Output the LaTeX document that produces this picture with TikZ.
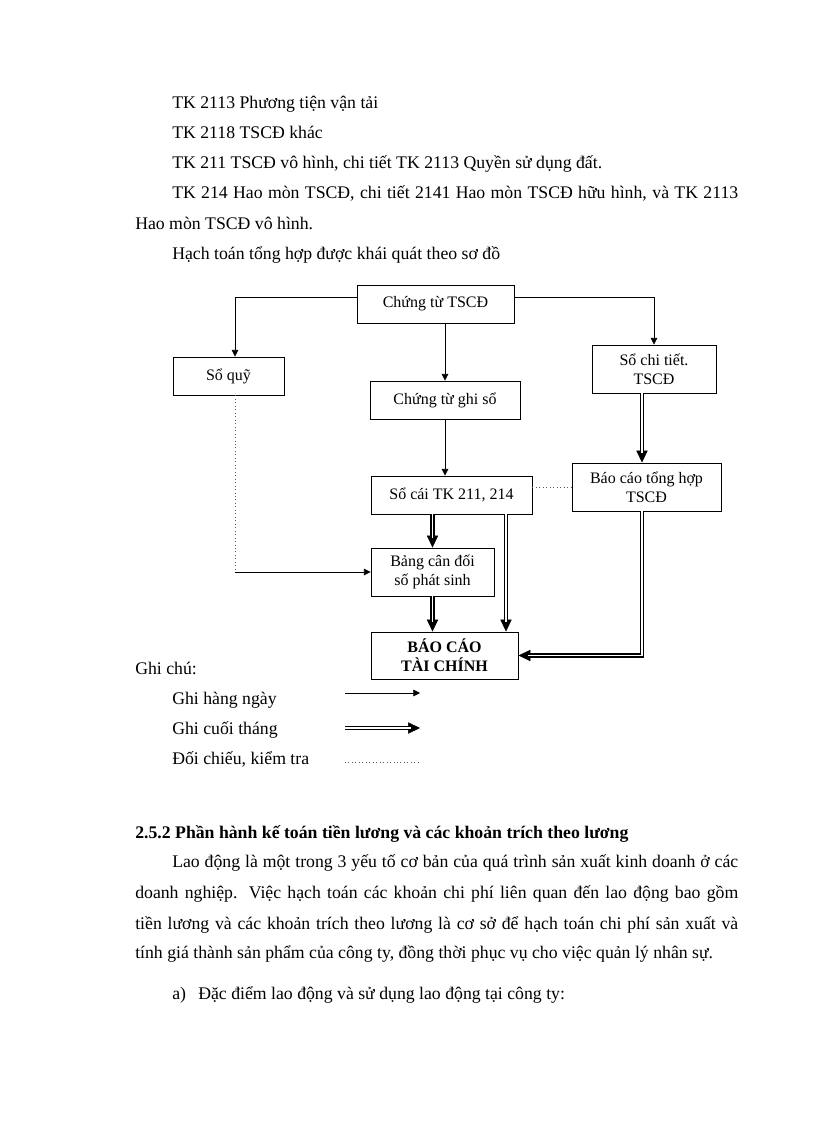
\documentclass[tikz,border=0pt]{standalone}
\usepackage{fontspec}
\setmainfont{Liberation Serif}
\usetikzlibrary{arrows.meta}

\begin{document}
\begin{tikzpicture}[
    x=0.75pt, y=-0.75pt,
    bodyline/.style={font=\fontsize{13.3}{15}\selectfont, anchor=base west, inner sep=0pt},
    headline/.style={bodyline, font=\fontsize{13.3}{15}\selectfont\bfseries},
    box/.style={draw, line width=0.7pt, minimum height=28.5pt, inner sep=1pt, align=center, font=\fontsize{12}{14}\selectfont},
    tallbox/.style={box, minimum height=36pt},
    daily/.style={line width=0.6pt, -{Triangle[length=5pt, width=5pt]}},
    tipline/.style={line width=0.4pt, -{Triangle[length=9pt, width=8.5pt]}},
    monthly/.style={double, double distance=1.2pt, line width=1.05pt, shorten >=7pt},
    check/.style={dotted, line width=0.6pt, gray!70!black},
]
\def\fullw{452.25pt}
\def\indw{424.5pt}
\def\monthline#1{\draw[tipline] #1; \draw[monthly] #1;}

\path[use as bounding box, fill=white] (0,0) rectangle (816,1123);

\foreach \i/\ypos/\txt in {
    1/109/{TK 2113 Phương tiện vận tải},
    2/139/{TK 2118 TSCĐ khác},
    3/169/{TK 211 TSCĐ vô hình, chi tiết TK 2113 Quyền sử dụng đất.},
    6/259/{Hạch toán tổng hợp được khái quát theo sơ đồ}} {
    \node[bodyline] (top\i) at (172,\ypos) {\txt};
}
\node[bodyline] (top4) at (172,199) {\makebox[\indw][s]{TK 214 Hao mòn TSCĐ, chi tiết 2141 Hao mòn TSCĐ hữu hình, và TK 2113}};
\node[bodyline] (top5) at (135,229) {Hao mòn TSCĐ vô hình.};

\node[box, minimum width=117.75pt] (ctTSCD) at (435.5,304) {Chứng từ TSCĐ};
\node[box, minimum width=83.25pt] (soquy) at (228.5,376) {Sổ quỹ};
\node[box, minimum width=112.5pt] (ctghiso) at (445,400) {Chứng từ ghi sổ};
\node[tallbox, minimum width=93pt] (sochitiet) at (654,369) {Sổ chi tiết.\\TSCĐ};
\node[box, minimum width=120.75pt] (socai) at (451.5,495) {Sổ cái TK 211, 214};
\node[tallbox, minimum width=111.75pt] (bcth) at (646.5,487) {Báo cáo tổng hợp\\TSCĐ};
\node[tallbox, minimum width=92.25pt] (bangcd) at (432.5,572) {Bảng cân đối\\số phát sinh};
\node[tallbox, minimum width=110.25pt, minimum height=35.25pt, font=\fontsize{12}{14}\selectfont\bfseries] (bctc) at (444.5,655.5) {BÁO CÁO\\TÀI CHÍNH};

\coordinate (toprow) at (0,297);
\coordinate (lcol) at (235,0);
\coordinate (scol) at (506,0);
\coordinate (rcol) at (642,0);
\coordinate (lturn) at (lcol |- bangcd.west);

\draw[daily] (ctTSCD.west |- toprow) -| (soquy.north -| lcol);
\draw[daily] (ctTSCD.east |- toprow) -| (sochitiet.north);
\draw[daily] (ctTSCD.south -| ctghiso.north) -- (ctghiso.north);
\draw[daily] (ctghiso.south) -- (ctghiso.south |- socai.north);
\draw[check] (soquy.south -| lcol) -- (lturn);
\draw[daily] (lturn) -- (bangcd.west);
\draw[check] (socai.east |- bcth.west) -- (bcth.west);

\monthline{(sochitiet.south -| rcol) -- (bcth.north -| rcol)}
\monthline{(socai.south -| bangcd.north) -- (bangcd.north)}
\monthline{(bangcd.south) -- (bangcd.south |- bctc.north)}
\monthline{(socai.south -| scol) -- (bctc.north -| scol)}
\monthline{(bcth.south -| rcol) |- (bctc.east)}

\node[bodyline] (note) at (135,674) {Ghi chú:};
\foreach \i/\ypos/\txt in {1/704/{Ghi hàng ngày}, 2/734/{Ghi cuối tháng}, 3/764/{Đối chiếu, kiểm tra}} {
    \node[bodyline] (key\i) at (172,\ypos) {\txt};
}
\coordinate (k1a) at (345,693);
\coordinate (k1b) at (420,693);
\coordinate (k2a) at (345,728);
\coordinate (k2b) at (420,728);
\coordinate (k3a) at (345,762);
\coordinate (k3b) at (419,762);
\draw[daily] (k1a) -- (k1b);
\monthline{(k2a) -- (k2b)}
\draw[check] (k3a) -- (k3b);

\node[headline] (sec) at (135,838) {2.5.2 Phần hành kế toán tiền lương và các khoản trích theo lương};
\node[bodyline] (par1) at (172,867) {\makebox[\indw][s]{Lao động là một trong 3 yếu tố cơ bản của quá trình sản xuất kinh doanh ở các}};
\node[bodyline] (par2) at (135,898) {\makebox[\fullw][s]{doanh nghiệp. Việc hạch toán các khoản chi phí liên quan đến lao động bao gồm}};
\node[bodyline] (par3) at (135,929) {\makebox[\fullw][s]{tiền lương và các khoản trích theo lương là cơ sở để hạch toán chi phí sản xuất và}};
\node[bodyline] (par4) at (135,958) {tính giá thành sản phẩm của công ty, đồng thời phục vụ cho việc quản lý nhân sự.};
\node[bodyline] (item) at (172,999) {a)};
\node[bodyline] (itemtxt) at (198,999) {Đặc điểm lao động và sử dụng lao động tại công ty:};
\end{tikzpicture}
\end{document}
